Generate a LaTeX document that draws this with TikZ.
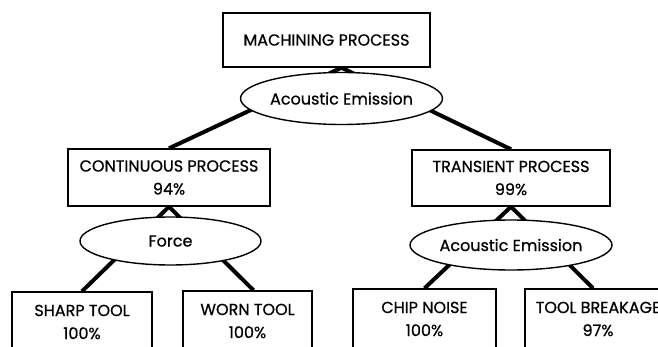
\documentclass[tikz,border=0pt]{standalone}
\usepackage{fontspec}
\setmainfont{Poppins}[FakeBold=0.7]
\usetikzlibrary{shapes.geometric}
\begin{document}
\begin{tikzpicture}[x=1pt,y=-1pt,
  box/.style={draw,line width=1.4pt,rectangle,inner sep=0pt,align=center,font=\fontsize{16}{23}\selectfont},
  ell/.style={draw,line width=1.4pt,ellipse,fill=white,inner sep=0pt,font=\fontsize{16}{18}\selectfont},
  branch/.style={line width=4pt}]
\useasboundingbox (0,0) rectangle (658,347);
\clip (0,0) rectangle (658,347);
% boxes
\node[box,minimum width=207pt,minimum height=54pt] (top) at (326.5,40) {MACHINING PROCESS};
\node[box,minimum width=202pt,minimum height=57pt] (cont) at (169,177.5) {CONTINUOUS PROCESS\\94\%};
\node[box,minimum width=198pt,minimum height=56pt] (trans) at (511,178) {TRANSIENT PROCESS\\99\%};
\node[box,minimum width=140pt,minimum height=60pt] (sharp) at (82,322) {SHARP TOOL\\100\%};
\node[box,minimum width=129pt,minimum height=60pt] (worn) at (247.5,321) {WORN TOOL\\100\%};
\node[box,minimum width=143pt,minimum height=60pt] (chip) at (424.5,319) {CHIP NOISE\\100\%};
\node[box,minimum width=146pt,minimum height=60pt] (brk) at (598,319) {TOOL BREAKAGE\\97\%};
% branches
\draw[branch] ([xshift=15pt]top.south) -- (cont.north);
\draw[branch] ([xshift=15pt]top.south) -- (trans.north);
\draw[branch] (cont.south) -- (sharp.north);
\draw[branch] (cont.south) -- ([xshift=6pt]worn.north);
\draw[branch] (trans.south) -- (chip.north);
\draw[branch] (trans.south) -- ([xshift=-5pt]brk.north);
% ellipses
\node[ell,minimum width=183pt,minimum height=52pt] (ae1) at (341.5,98.5) {Acoustic Emission};
\node[ell,minimum width=181pt,minimum height=48pt] (force) at (170.5,241) {Force};
\node[ell,minimum width=177pt,minimum height=50pt] (ae2) at (511,245) {Acoustic Emission};
\end{tikzpicture}
\end{document}
